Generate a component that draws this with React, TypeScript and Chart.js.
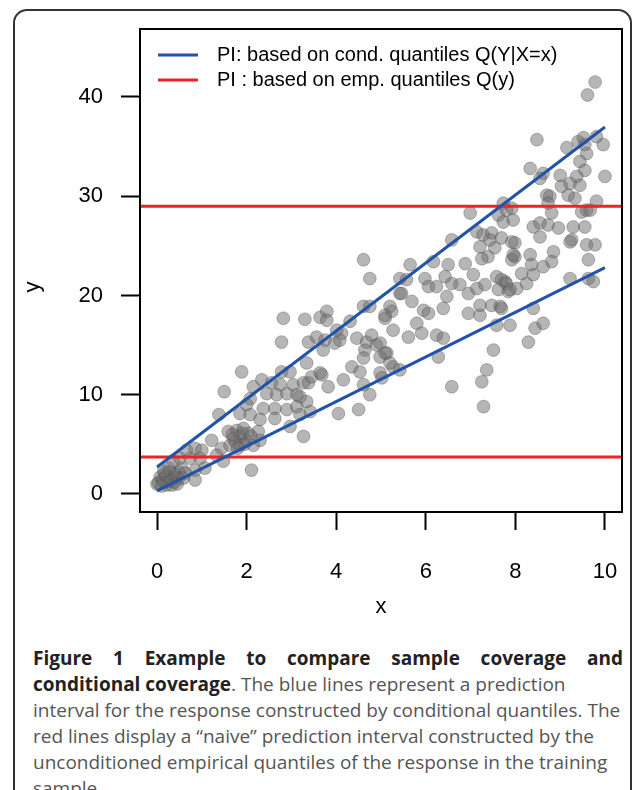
import React, { useEffect, useRef } from "react";
import { Chart, registerables } from "chart.js";

Chart.register(...registerables);

// ---- data ----
const xTicks = [0, 2, 4, 6, 8, 10];
const yTicks = [0, 10, 20, 30, 40];
const xRange = [-0.38, 10.38];
const yRange = [-1.82, 46.85];

const sampleX = [
  0.0, 0.07, 0.18, 0.29, 0.36, 0.14, 0.25, 0.4, 0.03, 0.33, 0.48, 0.22, 0.55, 0.48, 0.12, 0.2, 0.3, 0.4, 0.27, 0.1, 0.45, 0.15,
  0.36, 0.51, 0.74, 0.96, 0.66, 0.85, 1.0, 1.07, 0.85, 0.63, 0.85, 0.59,
  1.22, 1.44, 1.48, 1.33, 1.38, 1.5,
  1.59, 1.78, 1.93, 2.04, 1.7, 1.85, 2.0, 1.63, 1.85, 2.15, 2.26, 2.3, 1.75, 1.9, 1.68, 1.95, 1.8, 2.1, 2.11,
  1.89, 2.34, 2.15, 2.56, 2.75, 3.04, 3.27, 2.45, 2.67, 2.9, 3.12, 3.34, 2.08, 2.0, 2.37, 2.63, 2.9, 3.12, 1.85, 2.08, 2.3, 2.63, 2.97, 3.27,
  2.78, 2.97, 3.38, 3.45, 3.68, 3.19, 3.42, 3.19, 4.05, 4.5,
  3.34, 3.64, 4.16, 3.82, 4.61, 4.75,
  2.78, 2.82, 3.3, 3.64, 3.79, 3.79,
  3.38, 3.56, 3.75, 3.97, 4.12, 4.08, 4.01, 3.71,
  4.31, 4.61, 4.75, 5.2, 5.24, 5.09, 5.27, 5.42,
  4.46, 4.68, 4.79, 4.9, 4.64, 4.61, 5.13, 4.98,
  4.35, 4.53, 5.27, 4.98, 5.02,
  4.61, 4.75,
  5.65, 6.17, 6.5, 6.43, 6.88, 7.06,
  5.42, 5.57, 5.98, 6.06, 6.24, 6.58, 6.76, 6.47,
  6.95, 7.14, 7.32, 7.58, 7.77, 7.62, 7.84, 8.03,
  5.46, 5.69, 5.95, 6.06, 6.39, 5.09,
  7.21, 7.47, 7.66, 6.95, 7.21, 7.58, 7.88,
  5.61, 5.8, 5.91, 6.24, 6.39,
  4.98, 5.09, 5.2, 5.42,
  6.28, 7.51, 7.36, 7.25, 6.58, 7.29,
  6.99, 6.58,
  7.14, 7.28, 7.47, 7.21, 7.43, 7.54, 7.69, 7.39, 7.25,
  7.62, 7.73, 7.95, 7.92, 7.92, 7.99, 7.92,
  7.73, 7.8,
  9.78, 9.61, 8.48,
  9.15, 9.4, 9.55, 9.59, 9.81, 9.96, 9.44, 9.55, 9.52,
  8.33, 8.62, 8.55, 9.0, 9.03, 9.22, 9.37, 9.44, 10.0,
  8.7, 8.77, 9.18, 9.33, 9.81, 8.73,
  8.81, 9.48, 9.59, 9.67,
  8.4, 8.55, 8.73, 8.96, 9.29, 9.55, 8.55, 9.26,
  7.99, 9.59, 9.78, 8.85, 8.33, 7.95, 9.22,
  8.81, 9.63, 8.36, 8.62,
  8.14, 8.4, 8.25, 9.22, 9.63, 9.74,
  7.69, 7.8, 7.88, 7.69, 8.4,
  8.44, 8.62, 8.29,
];

const sampleY = [
  1.0, 1.7, 2.1, 2.2, 1.7, 1.2, 1.4, 1.2, 1.1, 0.9, 1.6, 0.9, 2.6, 2.2, 1.5, 1.8, 1.3, 2.0, 2.6, 0.8, 1.0, 2.3,
  3.3, 3.6, 3.6, 3.6, 4.4, 4.6, 4.4, 2.6, 2.4, 2.1, 1.4, 1.6,
  5.4, 4.6, 3.3, 3.9, 8.0, 10.3,
  6.3, 6.4, 6.6, 6.1, 5.6, 5.8, 5.4, 4.9, 4.9, 4.9, 6.3, 5.4, 5.2, 6.1, 6.0, 5.0, 4.6, 5.8, 2.4,
  12.3, 11.5, 10.8, 11.2, 11.0, 11.0, 11.2, 10.1, 10.0, 10.1, 10.0, 9.3, 9.6, 9.0, 8.6, 8.6, 8.5, 8.8, 8.1, 8.0, 7.5, 7.6, 6.8, 5.8,
  12.3, 12.3, 11.2, 11.8, 12.0, 9.8, 8.3, 8.0, 8.1, 8.5,
  13.2, 12.2, 11.5, 10.8, 11.0, 10.0,
  15.3, 17.7, 17.6, 17.8, 18.4, 17.5,
  15.3, 15.8, 15.5, 15.2, 16.2, 15.5, 16.5, 14.5,
  17.4, 18.9, 18.9, 18.9, 18.4, 17.7, 16.5, 20.2,
  15.7, 15.3, 16.0, 15.0, 14.5, 13.7, 14.2, 13.8,
  12.8, 12.3, 12.8, 12.2, 11.7,
  23.6, 21.7,
  23.1, 23.4, 23.1, 21.9, 23.2, 22.1,
  21.7, 21.6, 21.7, 20.9, 20.9, 21.2, 21.1, 19.9,
  20.2, 20.7, 21.1, 21.9, 21.4, 20.6, 20.4, 20.7,
  20.2, 19.4, 18.5, 18.2, 18.7, 18.0,
  19.0, 19.0, 18.9, 18.2, 18.0, 17.0, 17.0,
  15.8, 17.2, 16.2, 16.0, 15.7,
  15.2, 14.2, 13.2, 12.5,
  13.8, 14.5, 12.5, 11.3, 10.8, 8.8,
  28.3, 25.6,
  26.4, 26.1, 26.3, 24.9, 25.6, 24.8, 25.8, 23.9, 23.7,
  28.1, 27.4, 27.6, 28.8, 25.4, 23.9, 23.6,
  29.3, 28.6,
  41.5, 40.2, 35.7,
  34.9, 35.5, 35.2, 34.3, 36.0, 35.2, 33.5, 32.6, 35.9,
  32.8, 32.3, 31.8, 32.1, 31.0, 31.3, 32.0, 31.1, 32.0,
  30.1, 30.0, 30.1, 29.8, 29.5, 29.3,
  28.3, 28.4, 28.6, 28.6,
  26.9, 27.3, 27.1, 26.8, 26.9, 26.9, 25.9, 25.6,
  25.3, 25.1, 25.1, 24.4, 24.1, 24.1, 25.4,
  23.4, 23.6, 23.1, 22.9,
  22.2, 22.1, 21.2, 21.7, 21.7, 21.4,
  21.6, 21.2, 20.6, 18.7, 18.7,
  16.7, 17.2, 15.3,
];

// conditional-quantile prediction interval (lines at x = 0 and x = 10)
const condX = [0, 10];
const condUpper = [2.72, 36.98];
const condLower = [0.3, 22.8];
// empirical-quantile prediction interval (horizontal lines)
const empLevels = [29.0, 3.72];

const legendLabels = [
  "PI: based on cond. quantiles Q(Y|X=x)",
  "PI : based on emp. quantiles Q(y)",
];
const xTitle = "x";
const yTitle = "y";

const BLUE = "#2153a6";
const RED = "#ee2229";
const FONT = '"Liberation Sans", Arial, Helvetica, sans-serif';

const boxPlugin = {
  id: "plotBox",
  afterDraw(chart: any) {
    const { ctx, chartArea: a } = chart;
    ctx.save();
    ctx.strokeStyle = "#000";
    ctx.lineWidth = 2;
    ctx.strokeRect(a.left, a.top, a.right - a.left, a.bottom - a.top);
    // y axis title (placed like the original figure)
    ctx.fillStyle = "#000";
    ctx.font = `22px ${FONT}`;
    ctx.textAlign = "center";
    ctx.textBaseline = "middle";
    ctx.translate(a.left - 107, a.top + 258);
    ctx.rotate(-Math.PI / 2);
    ctx.fillText(yTitle, 0, 0);
    ctx.restore();
  },
};

const legendPlugin = {
  id: "innerLegend",
  afterDraw(chart: any) {
    const { ctx, chartArea: a } = chart;
    const colors = [BLUE, RED];
    ctx.save();
    legendLabels.forEach((label, i) => {
      const y = a.top + 26 + i * 25;
      ctx.strokeStyle = colors[i];
      ctx.lineWidth = 3;
      ctx.beginPath();
      ctx.moveTo(a.left + 18, y);
      ctx.lineTo(a.left + 58, y);
      ctx.stroke();
      ctx.fillStyle = "#000";
      ctx.font = `20px ${FONT}`;
      ctx.textBaseline = "middle";
      ctx.textAlign = "left";
      ctx.fillText(label, a.left + 77, y);
    });
    ctx.restore();
  },
};

function ChartView() {
  const ref = useRef<HTMLCanvasElement | null>(null);
  useEffect(() => {
    if (!ref.current) return;
    const points = sampleX.map((x, i) => ({ x, y: sampleY[i] }));
    const lineDs = (data: any[], color: string) => ({
      data,
      showLine: true,
      borderColor: color,
      backgroundColor: color,
      borderWidth: 3,
      pointRadius: 0,
      order: 1,
    });
    const chart = new Chart(ref.current, {
      type: "scatter",
      data: {
        datasets: [
          {
            data: points,
            pointRadius: 6.4,
            backgroundColor: "rgba(112,110,110,0.5)",
            borderColor: "rgba(70,70,70,0.35)",
            borderWidth: 1,
            order: 3,
          } as any,
          lineDs(condX.map((x, i) => ({ x, y: condUpper[i] })), BLUE),
          lineDs(condX.map((x, i) => ({ x, y: condLower[i] })), BLUE),
          ...empLevels.map((v) => lineDs(xRange.map((x) => ({ x, y: v })), RED)),
        ],
      },
      options: {
        animation: false,
        responsive: false,
        maintainAspectRatio: false,
        events: [],
        layout: { padding: { left: 0, top: 29, right: 13, bottom: 0 } },
        plugins: { legend: { display: false }, tooltip: { enabled: false } },
        scales: {
          x: {
            type: "linear",
            min: xRange[0],
            max: xRange[1],
            afterBuildTicks: (s: any) => {
              s.ticks = xTicks.map((value) => ({ value }));
            },
            afterFit: (s: any) => {
              s.height = 128;
              s.paddingLeft = 0;
              s.paddingRight = 0;
            },
            grid: { drawOnChartArea: false, drawTicks: true, tickLength: 18, tickWidth: 2, tickColor: "#000" },
            border: { display: false },
            ticks: { padding: 29, color: "#000", font: { size: 22, family: FONT }, maxRotation: 0 },
            title: { display: true, text: xTitle, color: "#000", font: { size: 22, family: FONT }, padding: { top: 0, bottom: 20 } },
          },
          y: {
            type: "linear",
            min: yRange[0],
            max: yRange[1],
            afterBuildTicks: (s: any) => {
              s.ticks = yTicks.map((value) => ({ value }));
            },
            afterFit: (s: any) => {
              s.width = 140;
              s.paddingTop = 0;
              s.paddingBottom = 0;
            },
            grid: { drawOnChartArea: false, drawTicks: true, tickLength: 19, tickWidth: 2, tickColor: "#000" },
            border: { display: false },
            ticks: { padding: 18, color: "#000", font: { size: 22, family: FONT } },
            title: { display: false, text: yTitle },
          },
        },
      },
      plugins: [boxPlugin, legendPlugin],
    } as any);
    return () => chart.destroy();
  }, []);
  return (
    <canvas
      ref={ref}
      width={635}
      height={640}
      style={{ position: "absolute", left: 0, top: 0, width: 635, height: 640 }}
    />
  );
}

export default function App() {
  const capFont = '"Open Sans", "Noto Sans", sans-serif';
  const lineStyle: React.CSSProperties = { whiteSpace: "nowrap", height: 26, lineHeight: "26px" };
  const bold: React.CSSProperties = { fontWeight: 700, color: "#222" };
  return (
    <div style={{ position: "absolute", left: 0, top: 0, width: 635, height: 790, overflow: "hidden", background: "#fff" }}>
      <div
        style={{
          position: "absolute",
          left: 13,
          top: 9,
          width: 619,
          height: 900,
          border: "2px solid #333",
          borderRadius: 14,
          boxSizing: "border-box",
        }}
      />
      <ChartView />
      <div
        style={{
          position: "absolute",
          left: 33,
          top: 645,
          width: 590,
          fontFamily: capFont,
          fontSize: 19,
          color: "#555",
        }}
      >
        <div style={{ ...lineStyle, ...bold, textAlign: "justify", textAlignLast: "justify" }}>
          Figure 1 Example to compare sample coverage and
        </div>
        <div style={lineStyle}>
          <span style={bold}>conditional coverage</span>. The blue lines represent a prediction
        </div>
        <div style={lineStyle}>interval for the response constructed by conditional quantiles. The</div>
        <div style={lineStyle}>red lines display a “naive” prediction interval constructed by the</div>
        <div style={lineStyle}>unconditioned empirical quantiles of the response in the training</div>
        <div style={lineStyle}>sample.</div>
      </div>
    </div>
  );
}
